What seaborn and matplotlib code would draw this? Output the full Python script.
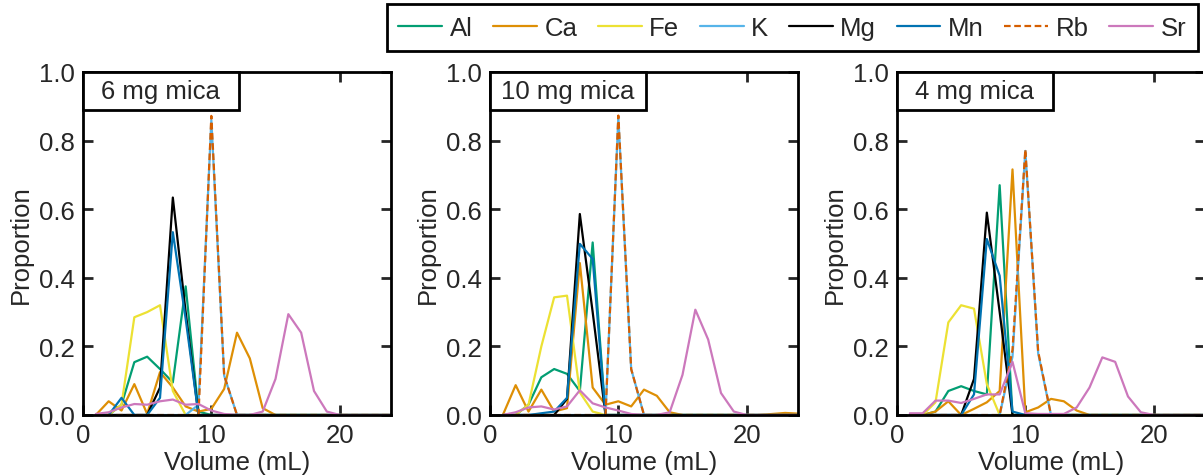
import matplotlib
matplotlib.use("Agg")
import matplotlib.pyplot as plt
from matplotlib.patches import Rectangle
from matplotlib.lines import Line2D
import pandas as pd
import seaborn as sns

# Elution volume (mL) of each collected fraction
volume = list(range(1, 25))

elements = ["Al", "Ca", "Fe", "K", "Mg", "Mn", "Rb", "Sr"]
panel_titles = ["6 mg mica", "10 mg mica", "4 mg mica"]
x_ticks = [0, 10, 20]
y_ticks = [0.0, 0.2, 0.4, 0.6, 0.8, 1.0]

# ---- 6 mg mica ----
al_6 = [0, 0, 0.03, 0.154, 0.17, 0.134, 0.095, 0.375, 0.01, 0, 0, 0, 0, 0, 0, 0, 0, 0, 0, 0, 0, 0, 0, 0]
ca_6 = [0, 0.04, 0.013, 0.09, 0.003, 0.125, 0.08, 0.025, 0.01, 0.018, 0.076, 0.24, 0.165, 0.02, 0, 0, 0, 0, 0, 0, 0, 0, 0, 0]
fe_6 = [0, 0, 0.03, 0.285, 0.30, 0.32, 0.07, 0, 0, 0, 0, 0, 0, 0, 0, 0, 0, 0, 0, 0, 0, 0, 0, 0]
k_6 = [0, 0, 0, 0, 0, 0, 0, 0, 0.03, 0.86, 0.115, 0, 0, 0, 0, 0, 0, 0, 0, 0, 0, 0, 0, 0]
mg_6 = [0, 0, 0, 0, 0, 0.08, 0.634, 0.30, 0, 0, 0, 0, 0, 0, 0, 0, 0, 0, 0, 0, 0, 0, 0, 0]
mn_6 = [0, 0, 0.05, 0, 0, 0.05, 0.533, 0.28, 0, 0, 0, 0, 0, 0, 0, 0, 0, 0, 0, 0, 0, 0, 0, 0]
rb_6 = [0, 0, 0, 0, 0, 0, 0, 0, 0, 0.872, 0.115, 0, 0, 0, 0, 0, 0, 0, 0, 0, 0, 0, 0, 0]
sr_6 = [0.003, 0.008, 0.022, 0.032, 0.03, 0.04, 0.045, 0.03, 0.032, 0.013, 0.003, 0, 0, 0.01, 0.105, 0.294, 0.24, 0.07, 0.01, 0, 0, 0, 0, 0]

# ---- 10 mg mica ----
al_10 = [0, 0, 0.03, 0.11, 0.134, 0.12, 0.07, 0.503, 0, 0, 0, 0, 0, 0, 0, 0, 0, 0, 0, 0, 0, 0, 0, 0]
ca_10 = [0, 0.087, 0.01, 0.074, 0.01, 0.02, 0.443, 0.08, 0.03, 0.04, 0.025, 0.074, 0.056, 0.008, 0, 0, 0, 0, 0, 0, 0, 0.003, 0.006, 0.004]
fe_10 = [0, 0, 0.03, 0.2, 0.343, 0.348, 0.066, 0.01, 0, 0, 0, 0, 0, 0, 0, 0, 0, 0, 0, 0, 0, 0, 0, 0]
k_10 = [0, 0, 0, 0, 0, 0, 0, 0, 0, 0.868, 0.134, 0, 0, 0, 0, 0, 0, 0, 0, 0, 0, 0, 0, 0]
mg_10 = [0, 0, 0, 0, 0, 0.047, 0.586, 0.30, 0, 0, 0, 0, 0, 0, 0, 0, 0, 0, 0, 0, 0, 0, 0, 0]
mn_10 = [0, 0, 0, 0.005, 0.01, 0.05, 0.499, 0.455, 0, 0, 0, 0, 0, 0, 0, 0, 0, 0, 0, 0, 0, 0, 0, 0]
rb_10 = [0, 0, 0, 0, 0, 0, 0, 0, 0, 0.873, 0.134, 0, 0, 0, 0, 0, 0, 0, 0, 0, 0, 0, 0, 0]
sr_10 = [0, 0.008, 0.022, 0.025, 0.016, 0.025, 0.072, 0.034, 0.022, 0.013, 0.003, 0, 0, 0.008, 0.117, 0.307, 0.22, 0.064, 0.01, 0, 0, 0, 0, 0]

# ---- 4 mg mica ----
al_4 = [0, 0, 0.01, 0.07, 0.084, 0.07, 0.06, 0.67, 0, 0, 0, 0, 0, 0, 0, 0, 0, 0, 0, 0, 0, 0, 0, 0]
ca_4 = [0, 0, 0.01, 0.04, 0, 0.018, 0.037, 0.07, 0.716, 0.008, 0.022, 0.047, 0.04, 0.013, 0, 0, 0, 0, 0, 0, 0, 0, 0, 0]
fe_4 = [0, 0, 0.037, 0.27, 0.32, 0.31, 0.09, 0, 0, 0, 0, 0, 0, 0, 0, 0, 0, 0, 0, 0, 0, 0, 0, 0]
k_4 = [0, 0, 0, 0, 0, 0, 0, 0, 0.17, 0.77, 0.18, 0, 0, 0, 0, 0, 0, 0, 0, 0, 0, 0, 0, 0]
mg_4 = [0, 0, 0, 0, 0, 0.105, 0.59, 0.30, 0, 0, 0, 0, 0, 0, 0, 0, 0, 0, 0, 0, 0, 0, 0, 0]
mn_4 = [0, 0, 0, 0, 0, 0.06, 0.513, 0.406, 0.01, 0, 0, 0, 0, 0, 0, 0, 0, 0, 0, 0, 0, 0, 0, 0]
rb_4 = [0, 0, 0, 0, 0, 0, 0, 0, 0.19, 0.774, 0.185, 0, 0, 0, 0, 0, 0, 0, 0, 0, 0, 0, 0, 0]
sr_4 = [0.005, 0.005, 0.042, 0.042, 0.035, 0.047, 0.06, 0.06, 0.155, 0.005, 0.003, 0.003, 0.003, 0.022, 0.08, 0.168, 0.155, 0.054, 0.008, 0, 0, 0, 0, 0]

panels = [
    [al_6, ca_6, fe_6, k_6, mg_6, mn_6, rb_6, sr_6],
    [al_10, ca_10, fe_10, k_10, mg_10, mn_10, rb_10, sr_10],
    [al_4, ca_4, fe_4, k_4, mg_4, mn_4, rb_4, sr_4],
]

cb = sns.color_palette("colorblind")
palette = {
    "Al": cb[2], "Ca": cb[1], "Fe": cb[8], "K": cb[9],
    "Mg": "black", "Mn": cb[0], "Rb": cb[3], "Sr": cb[4],
}
dashes = {el: "" for el in elements}
dashes["Rb"] = (3, 1.6)

sns.set_style("ticks")
plt.rcParams["font.family"] = ["Liberation Sans", "DejaVu Sans"]
plt.rcParams["font.size"] = 18.5

W, H = 1203, 477
fig = plt.figure(figsize=(W / 100, H / 100), dpi=100)

ax_w, ax_h = 308 / W, 343 / H
ax_bottom = 1 - 416 / H
lefts = [83 / W, 490 / W, 897 / W]

for left, title, series in zip(lefts, panel_titles, panels):
    ax = fig.add_axes([left, ax_bottom, ax_w, ax_h])
    df = pd.DataFrame({
        "Volume": volume * len(elements),
        "Proportion": [v for s in series for v in s],
        "Element": [el for el in elements for _ in volume],
    })
    sns.lineplot(data=df, x="Volume", y="Proportion", hue="Element",
                 style="Element", hue_order=elements, style_order=elements,
                 palette=palette, dashes=dashes, lw=1.6, legend=False, ax=ax)
    ax.set_xlim(0, 24)
    ax.set_ylim(0, 1.0)
    ax.set_xticks(x_ticks)
    ax.set_yticks(y_ticks)
    ax.set_yticklabels([f"{t:.1f}" for t in y_ticks])
    ax.set_xlabel("Volume (mL)", labelpad=2)
    ax.set_ylabel("Proportion", labelpad=4)
    ax.tick_params(direction="in", length=7, width=2, top=True, right=True,
                   pad=6, labelsize=18.5)
    for sp in ax.spines.values():
        sp.set_visible(True)
        sp.set_linewidth(2)
        sp.set_color("black")
    # sample label box in the upper-left corner
    ax.add_patch(Rectangle((0, 0.889), 0.506, 0.111, transform=ax.transAxes,
                           facecolor="white", edgecolor="black", lw=2,
                           zorder=5, clip_on=False))
    ax.text(0.253, 0.9445, title, transform=ax.transAxes, ha="center",
            va="center", fontsize=18.5, zorder=6)

handles = [Line2D([], [], color=palette[el], lw=1.6,
                  linestyle=(0, dashes[el]) if dashes[el] else "-")
           for el in elements]
leg = fig.legend(handles, elements, ncol=8, loc="upper right",
                 bbox_to_anchor=(1198 / W, 1 - 5 / H), borderaxespad=0,
                 frameon=True, fancybox=False, edgecolor="black",
                 framealpha=1, borderpad=0.45, handlelength=1.7,
                 handletextpad=0.3, columnspacing=0.8, fontsize=18.5)
leg.get_frame().set_linewidth(2)

fig.savefig("out.png", dpi=100)
